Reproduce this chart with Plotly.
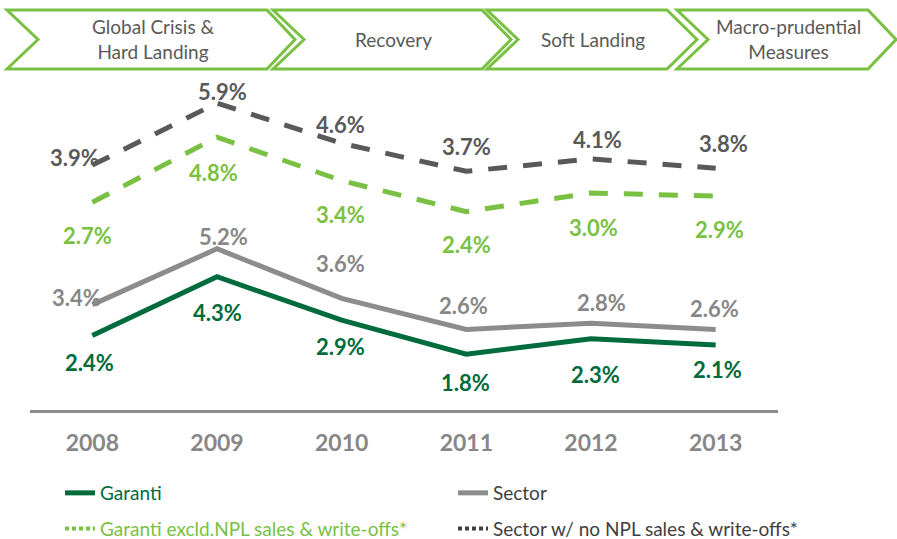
import plotly.graph_objects as go

# ---------------- data ----------------
years = ["2008", "2009", "2010", "2011", "2012", "2013"]
garanti = [2.4, 4.3, 2.9, 1.8, 2.3, 2.1]
sector = [3.4, 5.2, 3.6, 2.6, 2.8, 2.6]
garanti_excl = [2.7, 4.8, 3.4, 2.4, 3.0, 2.9]
sector_no_npl = [3.9, 5.9, 4.6, 3.7, 4.1, 3.8]
phases = ["Global Crisis &<br>Hard Landing", "Recovery", "Soft Landing", "Macro-prudential<br>Measures"]
legend_names = ["Garanti", "Sector", "Garanti excld.NPL sales & write-offs*", "Sector w/ no NPL sales & write-offs*"]

# ---------------- styles ----------------
DKGREEN = "#006B3C"
LTGREEN = "#7AC143"
GRAY = "#8C8C8C"
GRAYLBL = "#878787"
DKGRAY = "#595959"
LEGDARK = "#404040"
FONT = "Lato"

W, H = 897, 539
L, R, T, B = 30, 778, 80, 410   # plot area in px

def pxx(x):
    return (x - L) / (R - L)

def pxy(y):
    return (B - y) / (B - T)

xpos = list(range(len(years)))

fig = go.Figure()

fig.add_trace(go.Scatter(x=xpos, y=garanti, mode="lines", line=dict(color=DKGREEN, width=5),
                         name=f"<span style='color:{DKGREEN}'>{legend_names[0]}</span>",
                         legend="legend", legendgroup="g1", hoverinfo="skip"))
fig.add_trace(go.Scatter(x=xpos, y=sector, mode="lines", line=dict(color=GRAY, width=5),
                         name=f"<span style='color:{LEGDARK}'>{legend_names[1]}</span>",
                         legend="legend2", legendgroup="g2", hoverinfo="skip"))
fig.add_trace(go.Scatter(x=xpos, y=garanti_excl, mode="lines", yaxis="y2",
                         line=dict(color=LTGREEN, width=5, dash="19px,16px"), showlegend=False,
                         hoverinfo="skip"))
fig.add_trace(go.Scatter(x=xpos, y=sector_no_npl, mode="lines", yaxis="y2",
                         line=dict(color=DKGRAY, width=5, dash="19px,16px"), showlegend=False,
                         hoverinfo="skip"))
# legend samples (dotted) for the dashed series
fig.add_trace(go.Scatter(x=[None], y=[None], mode="lines", yaxis="y2",
                         line=dict(color=LTGREEN, width=4, dash="4px,3px"),
                         name=f"<span style='color:{LTGREEN}'>{legend_names[2]}</span>",
                         legend="legend", legendgroup="g3"))
fig.add_trace(go.Scatter(x=[None], y=[None], mode="lines", yaxis="y2",
                         line=dict(color=LEGDARK, width=4, dash="4px,3px"),
                         name=f"<span style='color:{LEGDARK}'>{legend_names[3]}</span>",
                         legend="legend2", legendgroup="g4"))

annotations = []

# data labels: (series, axis, color, dx list, dy list (px, +down))
label_specs = [
    (garanti, "y", DKGREEN, [-3, 0, -1, -1, 4, 2], [27, 36, 26, 28, 36, 25]),
    (sector, "y", GRAYLBL, [-16, 6, -1, -3, 10, -1], [-7, -12, -35, -24, -21, -21]),
    (sector_no_npl, "y2", DKGRAY, [-18, 5, -1, 0, 6, 8], [-8, -12, -19, -25, -19, -25]),
    (garanti_excl, "y2", LTGREEN, [-5, -4, -1, 0, 2, 4], [33, 35, 34, 33, 34, 33]),
]
for vals, ax, col, dxs, dys in label_specs:
    for xi, v, dx, dy in zip(xpos, vals, dxs, dys):
        annotations.append(dict(x=xi, y=v, xref="x", yref=ax, text=f"<b>{v:.1f}%</b>", showarrow=False,
                                xshift=dx, yshift=-dy, xanchor="center", yanchor="middle",
                                font=dict(family=FONT, size=22, color=col)))

# phase banner (chevrons)
chevrons = [(7, 38, 267, 295), (273, 304, 482, 511), (487, 518, 667, 697), (677, 708, 868, 896)]
ctop, cbot, cmid = 10, 69, 39.5
shapes = []
for (lft, notch, rt, tip), label in zip(chevrons, phases):
    path = (f"M{pxx(lft)},{pxy(ctop)} L{pxx(rt)},{pxy(ctop)} L{pxx(tip)},{pxy(cmid)} "
            f"L{pxx(rt)},{pxy(cbot)} L{pxx(lft)},{pxy(cbot)} L{pxx(notch)},{pxy(cmid)} Z")
    shapes.append(dict(type="path", xref="paper", yref="paper", path=path,
                       line=dict(color=LTGREEN, width=3), fillcolor="white", layer="above"))
    annotations.append(dict(x=pxx((notch + rt) / 2), y=pxy(cmid), xref="paper", yref="paper",
                            text=label, showarrow=False, xanchor="center", yanchor="middle",
                            font=dict(family=FONT, size=19, color=DKGRAY)))

fig.update_layout(
    width=W, height=H,
    margin=dict(l=L, r=W - R, t=T, b=H - B, autoexpand=False),
    paper_bgcolor="white", plot_bgcolor="white",
    hovermode=False,
    xaxis=dict(range=[-0.5, 5.5], showgrid=False, zeroline=False,
               tickvals=xpos, ticktext=years,
               showline=True, linecolor=GRAY, linewidth=3, ticks="", ticklabelstandoff=10,
               tickfont=dict(family=FONT, size=23, color=GRAYLBL, weight="bold")),
    yaxis=dict(range=[0, (B - T) / 31.0], visible=False),
    yaxis2=dict(range=[-4.0, (B - T) / 31.0 - 4.0], visible=False, overlaying="y"),
    shapes=shapes,
    annotations=annotations,
    legend=dict(x=pxx(60), y=pxy(474), xanchor="left", yanchor="top", orientation="v",
                tracegroupgap=8, font=dict(family=FONT, size=19), bgcolor="rgba(0,0,0,0)"),
    legend2=dict(x=pxx(453), y=pxy(474), xanchor="left", yanchor="top", orientation="v",
                 tracegroupgap=8, font=dict(family=FONT, size=19), bgcolor="rgba(0,0,0,0)"),
    showlegend=True,
)

fig.write_html("out.html", config={"displayModeBar": False, "staticPlot": True},
               post_script="document.body.style.margin='0';document.body.style.overflow='hidden';")
